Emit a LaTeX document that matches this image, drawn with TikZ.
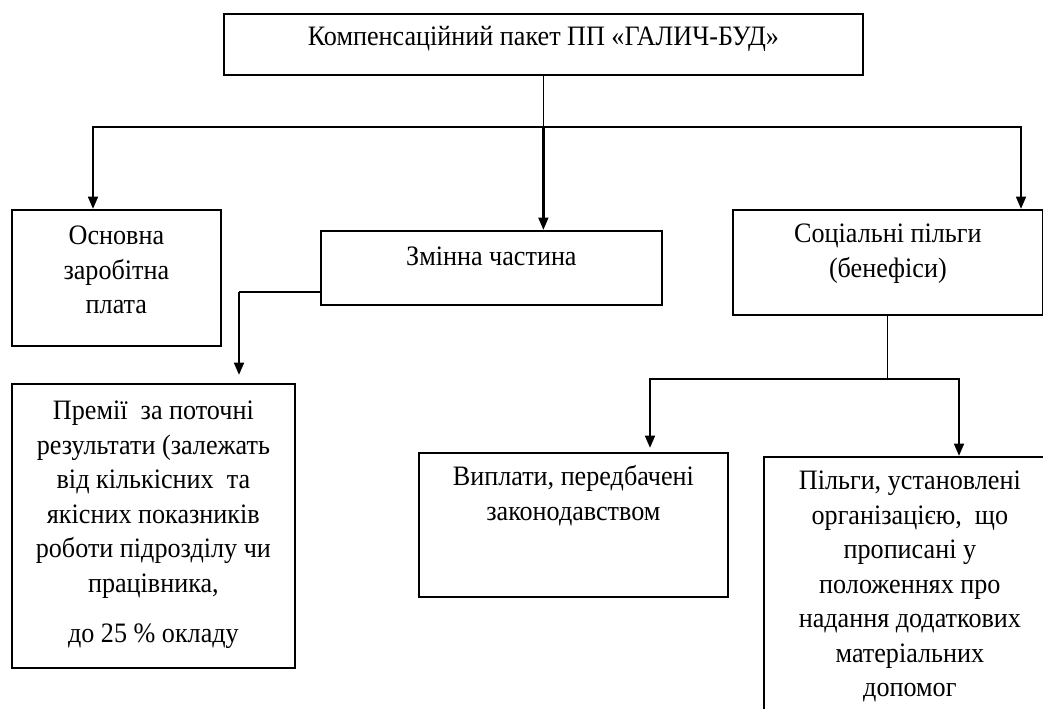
\documentclass[tikz,border=0pt]{standalone}
\usepackage{fontspec}
\setmainfont[FakeStretch=0.93]{Liberation Serif}
\usetikzlibrary{arrows.meta,positioning,calc}

\begin{document}
\begin{tikzpicture}[
    box/.style={draw, line width=1pt, inner sep=0pt, anchor=north west,
        font=\fontsize{16}{19.6}\selectfont},
    ln/.style={line width=0.6pt},
    arr/.style={line width=1.4pt, -{Triangle[length=7pt,width=5.5pt]}}
]
    % Canvas
    \clip (0,0) rectangle (20.86,14.18);
    \fill[white] (0,0) rectangle (20.86,14.18);

    % Top box
    \node[box] (pak) at (4.46,13.92) {\parbox[t][1.22cm][t]{12.78cm}{\centering\rule{0pt}{0.64cm}Компенсаційний пакет ПП «ГАЛИЧ-БУД»}};

    % Second level
    \node[box] (osn) at (0.22,10.0) {\parbox[t][2.72cm][t]{4.18cm}{\centering\rule{0pt}{0.70cm}Основна\\заробітна\\плата}};
    \node[box] (zm) at (6.40,9.58) {\parbox[t][1.48cm][t]{6.82cm}{\centering\rule{0pt}{0.70cm}Змінна частина}};
    \node[box] (soc) at (14.64,10.0) {\parbox[t][2.10cm][t]{6.20cm}{\centering\rule{0pt}{0.66cm}Соціальні пільги\\(бенефіси)}};

    % Third level
    \node[box] (prem) at (0.22,6.52) {\parbox[t][5.68cm][t]{5.66cm}{\centering\rule{0pt}{0.72cm}Премії~ за поточні\\результати (залежать\\від кількісних~ та\\якісних показників\\роботи підрозділу чи\\працівника,\\[9pt]до 25 \% окладу}};
    \node[box] (vyp) at (8.36,5.14) {\parbox[t][2.88cm][t]{6.18cm}{\centering\rule{0pt}{0.66cm}Виплати, передбачені\\законодавством}};
    \node[box] (pil) at (15.26,5.06) {\parbox[t][6.08cm][t]{5.84cm}{\centering\rule{0pt}{0.66cm}Пільги, установлені\\організацією,~ що\\прописані у\\положеннях про\\надання додаткових\\матеріальних\\допомог}};

    % Branch points
    \coordinate (jl) at (1.86,11.64);
    \coordinate (jr) at (20.42,11.64);
    \coordinate (zc) at (4.78,8.34);
    \coordinate (bl) at (13.0,6.60);
    \coordinate (br) at (19.18,6.60);

    % Connectors from the top box
    \draw[ln] (pak.south) -- (pak.south |- jl);
    \draw[arr] (pak.south |- jl) -| (jl |- osn.north);
    \draw[arr] (pak.south |- jl) -| (jr |- soc.north);
    \draw[arr] (pak.south |- jl) -- (pak.south |- zm.north);

    % Variable part
    \draw[ln] (zc -| zm.west) -- (zc);
    \draw[arr, shorten >=0.16cm] (zc) -- (zc |- prem.north);

    % Social benefits
    \draw[ln] (soc.south) -- (soc.south |- bl);
    \draw[arr, shorten >=0.08cm] (soc.south |- bl) -| (bl |- vyp.north);
    \draw[arr] (soc.south |- bl) -| (br |- pil.north);

\end{tikzpicture}
\end{document}
